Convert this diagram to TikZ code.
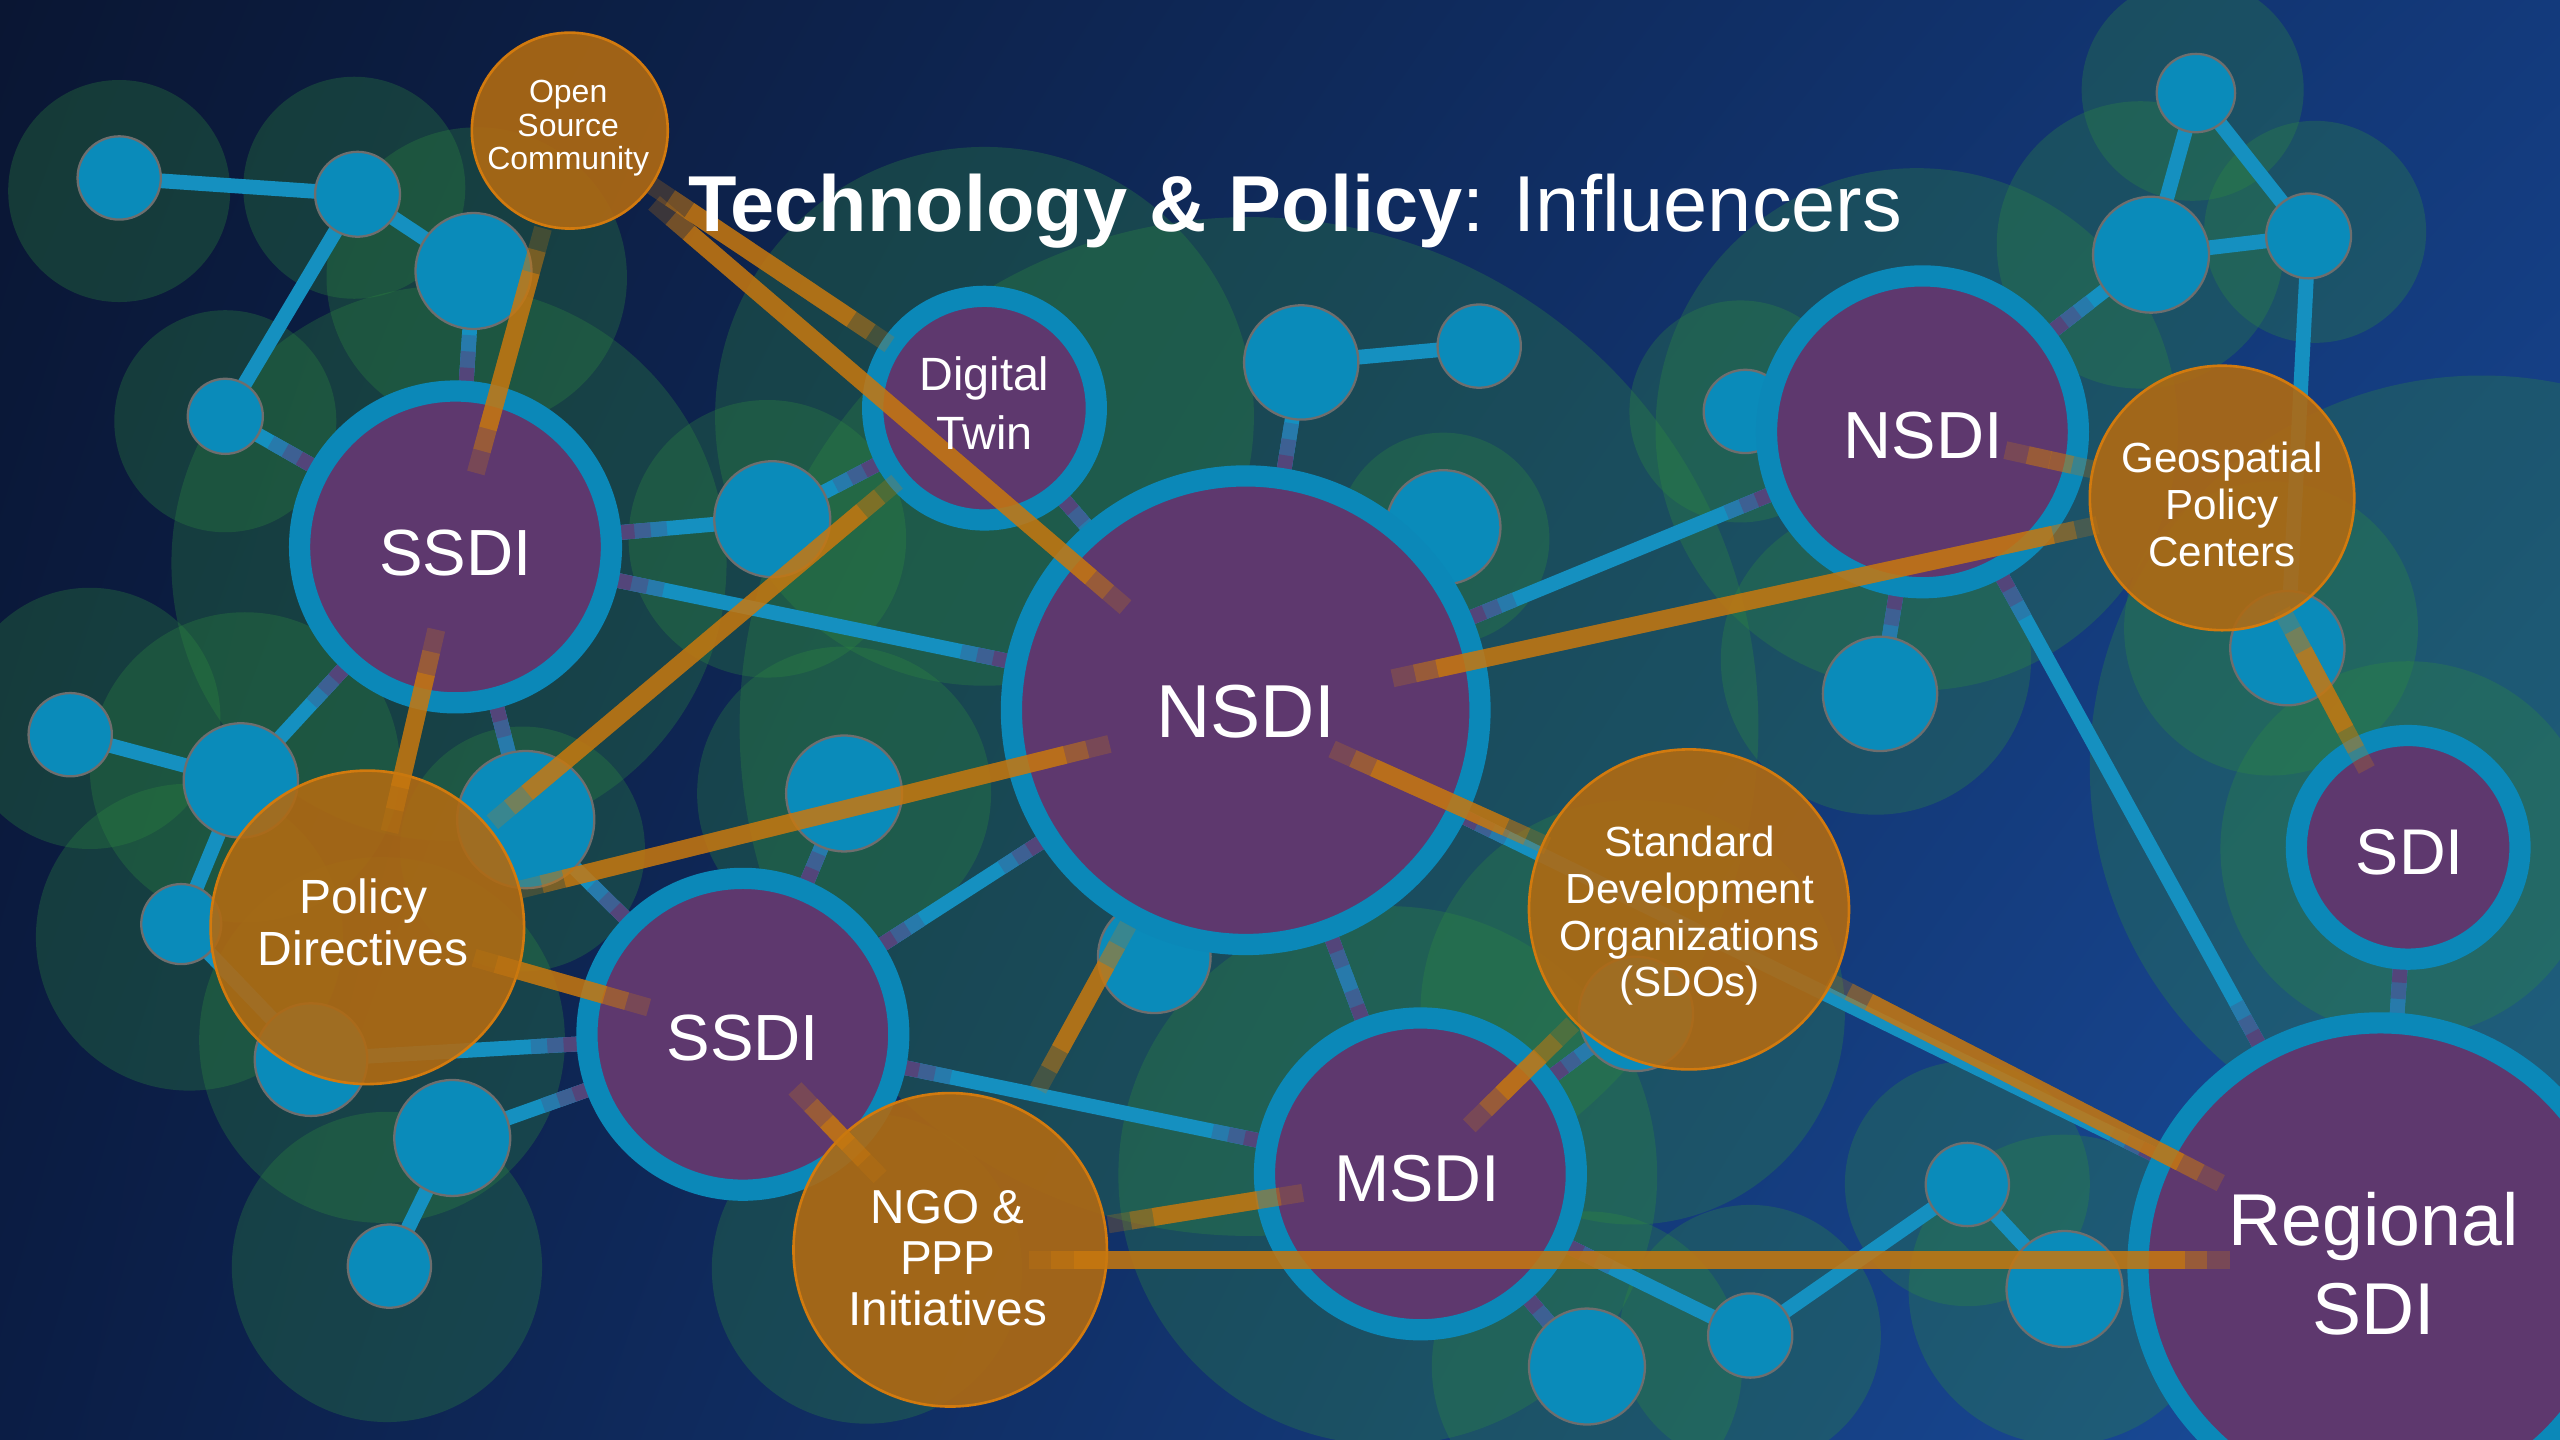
\documentclass[tikz,border=0pt]{standalone}
\usepackage{fontspec}
\setmainfont{Liberation Sans}
\usetikzlibrary{shadows,calc,shadings}
\pgfdeclarelayer{halo}
\pgfdeclarelayer{lines}
\pgfdeclarelayer{olines}
\pgfdeclarelayer{labels}
\pgfsetlayers{halo,lines,main,olines,labels}
\definecolor{bgTL}{HTML}{0A1633}
\definecolor{bgTR}{HTML}{133A7C}
\definecolor{bgBL}{HTML}{0B1D45}
\definecolor{bgBR}{HTML}{1A4FA0}
\definecolor{halo}{HTML}{2F8C3F}
\definecolor{purp}{HTML}{5E386E}
\definecolor{ring}{HTML}{0B88B8}
\definecolor{dotc}{HTML}{0A8BBA}
\definecolor{dotE}{HTML}{6E6E6E}
\definecolor{orng}{HTML}{B06A12}
\definecolor{orngE}{HTML}{D27A0E}
\definecolor{ocl}{HTML}{C8780F}
\definecolor{cyanl}{HTML}{1590C0}
\newcommand\olink[4]{%
  \coordinate (os) at ($(#1.center)!#3!(#2.center)$);
  \coordinate (oe) at ($(#2.center)!#4!(#1.center)$);
  \draw[ol, draw opacity=0.25] (os) -- (oe);
  \draw[ol, draw opacity=0.4] ($(os)!7pt!(oe)$) -- ($(oe)!7pt!(os)$);
  \draw[ol, draw opacity=0.67] ($(os)!14pt!(oe)$) -- ($(oe)!14pt!(os)$);
}
\begin{document}
\begin{tikzpicture}[x=0.5pt,y=-0.5pt,
  pn/.style={circle, inner sep=0pt, fill=purp, draw=ring, line width=6.5pt, minimum size=#1,
     drop shadow={shadow xshift=1.5pt, shadow yshift=-2.5pt, opacity=0.35}},
  dt/.style={circle, inner sep=0pt, fill=dotc, draw=dotE, line width=0.7pt, minimum size=#1},
  on/.style={circle, inner sep=0pt, fill=orng, fill opacity=0.9, draw=orngE, line width=0.8pt, minimum size=#1},
  cl/.style={draw=cyanl, line width=4.5pt},
  ol/.style={draw=ocl, line width=5.5pt},
  lb/.style={text=white, align=center, inner sep=0pt}
]
\useasboundingbox (0,0) rectangle (1568,882);
\begin{pgfonlayer}{halo}
\shade[upper left=bgTL, upper right=bgTR, lower left=bgBL, lower right=bgBR] (0,0) rectangle (1568,882);
\begin{scope}
\clip (0,0) rectangle (1568,882);
\foreach \x/\y/\r in {73/117/68, 217/115/68, 292/170/92, 138/258/68, 275/345/170, 603/255/165,
  470/330/85, 55/440/80, 150/470/95, 116/574/94, 234/637/112, 237/776/95, 320/520/75,
  517/486/90, 531/777/95, 850/720/165, 884/330/65, 765/445/312, 1174/263/160, 1066/252/68,
  1343/55/68, 1311/150/88, 1418/142/68, 1391/385/90, 1149/404/95, 1475/520/115, 1000/620/130,
  972/837/95, 1072/818/80, 1205/725/75, 1264/790/95, 1520/470/240}
  \fill[halo, opacity=0.3] (\x,\y) circle[radius=\r];
\end{scope}
\end{pgfonlayer}

% small dots
\node[dt=25.5pt] (d1) at (73,109) {};
\node[dt=26pt] (d2) at (219,119) {};
\node[dt=35.5pt] (d3) at (290,166) {};
\node[dt=23pt] (d4) at (138,255) {};
\node[dt=35.5pt] (d5) at (473,318) {};
\node[dt=25.5pt] (d6) at (43,450) {};
\node[dt=35pt] (d7) at (147.5,478) {};
\node[dt=24.5pt] (d8) at (111,566) {};
\node[dt=42pt] (d9) at (322,502) {};
\node[dt=35.5pt] (d10) at (517,486) {};
\node[dt=34.5pt] (d11) at (190.5,649) {};
\node[dt=35.5pt] (d12) at (277,697) {};
\node[dt=25.5pt] (d13) at (238.5,775.5) {};
\node[dt=34.5pt] (d14) at (707,586) {};
\node[dt=35pt] (d15) at (797,222) {};
\node[dt=25.5pt] (d16) at (906,212) {};
\node[dt=35pt] (d17) at (884,323) {};
\node[dt=25.5pt] (d18) at (1069,252) {};
\node[dt=35pt] (d19) at (1151.5,425) {};
\node[dt=35.5pt] (d20) at (1317.5,156) {};
\node[dt=24pt] (d21) at (1345,57) {};
\node[dt=26pt] (d22) at (1414,144.5) {};
\node[dt=35pt] (d23) at (1401,397) {};
\node[dt=35.5pt] (d25) at (972,837) {};
\node[dt=25.8pt] (d26) at (1072,818) {};
\node[dt=25.5pt] (d27) at (1205,725.5) {};
\node[dt=35.5pt] (d28) at (1264.5,789.5) {};
\node[dt=35pt] (d29) at (1002,621) {};

% purple nodes
\node[pn=95.5pt] (ssdiA) at (279,335) {};
\node[pn=68.5pt] (dtwin) at (603,250) {};
\node[pn=143.5pt] (nsdiA) at (763,435) {};
\node[pn=95.5pt] (nsdiB) at (1177.5,264.5) {};
\node[pn=68.5pt] (sdi) at (1475,519) {};
\node[pn=95.5pt] (ssdiB) at (455,633.5) {};
\node[pn=95.5pt] (msdi) at (870,719) {};
\node[pn=148.5pt] (regional) at (1458,775) {};

% orange nodes
\node[on=60pt] (osc) at (349,80) {};
\node[on=96pt] (policy) at (225,568) {};
\node[on=81pt] (geo) at (1361,305) {};
\node[on=98pt] (sdo) at (1034.5,557) {};
\node[on=96pt] (ngo) at (582,765.5) {};
\coordinate (ngoH) at ($(ngo.center)+(0,6.5)$);
\coordinate (regH) at ($(regional.center)+(0,-3)$);

% cyan connectors
\begin{pgfonlayer}{lines}
\foreach \a/\b in {d1/d2, d2/d3, d2/d4, d4/ssdiA, d3/ssdiA, ssdiA/d5, d5/dtwin, ssdiA/nsdiA,
  ssdiA/d7, ssdiA/d9, d6/d7, d7/d8, d8/d11, d9/ssdiB, d11/ssdiB, d12/ssdiB, d12/d13, d10/ssdiB,
  ssdiB/nsdiA, ssdiB/msdi, dtwin/nsdiA, nsdiA/d15, d15/d16, nsdiA/d17, nsdiA/nsdiB, nsdiB/d18,
  nsdiB/d19, nsdiB/d20, d20/d21, d21/d22, d20/d22, d22/d23, nsdiB/regional, sdi/regional,
  nsdiA/msdi, msdi/d25, msdi/d26, d26/d27, d27/d28, msdi/d29, nsdiA/regional, nsdiA/d14}
  \draw[cl] (\a.center) -- (\b.center);
% purple tint where a connector leaves a purple node
\foreach \p/\q/\r in {ssdiA/d4/51, ssdiA/d3/51, ssdiA/d5/51, dtwin/d5/37.5, ssdiA/nsdiA/51, nsdiA/ssdiA/75,
  ssdiA/d7/51, ssdiA/d9/51, ssdiB/d9/51, ssdiB/d11/51, ssdiB/d12/51, ssdiB/d10/51, ssdiB/nsdiA/51,
  nsdiA/ssdiB/75, ssdiB/msdi/51, msdi/ssdiB/51, nsdiA/d15/75, nsdiA/nsdiB/75, nsdiB/nsdiA/51,
  nsdiB/d19/51, nsdiB/d20/51, nsdiB/regional/51, regional/nsdiB/77.5, sdi/regional/37.5,
  nsdiA/msdi/75, msdi/nsdiA/51, msdi/d25/51, msdi/d26/51, msdi/d29/51, nsdiA/regional/75,
  regional/nsdiA/77.5, dtwin/nsdiA/37.5}
{
  \pgfmathsetmacro\ra{\r+4}
  \pgfmathsetmacro\rb{\r+9}
  \pgfmathsetmacro\rc{\r+14}
  \draw[cl, draw=purp!25!cyanl] (\p.center) -- ($(\p.center)!\rc pt!(\q.center)$);
  \draw[cl, draw=purp!55!cyanl] (\p.center) -- ($(\p.center)!\rb pt!(\q.center)$);
  \draw[cl, draw=purp!85!cyanl] (\p.center) -- ($(\p.center)!\ra pt!(\q.center)$);
}
\end{pgfonlayer}

% orange connectors
\begin{pgfonlayer}{olines}
\olink{osc}{ssdiA}{31pt}{23.5pt}
\olink{osc}{dtwin}{30pt}{35pt}
\olink{osc}{nsdiA}{34pt}{48.5pt}
\olink{ssdiA}{policy}{26pt}{30pt}
\olink{policy}{dtwin}{50pt}{35pt}
\olink{policy}{nsdiA}{48pt}{43pt}
\olink{policy}{ssdiB}{34pt}{30pt}
\olink{ssdiB}{ngo}{23pt}{31pt}
\olink{ngo}{nsdiA}{56pt}{75pt}
\olink{ngo}{msdi}{49pt}{36.5pt}
\olink{ngoH}{regH}{24pt}{46pt}
\olink{nsdiA}{sdo}{29pt}{47.5pt}
\olink{nsdiA}{geo}{46pt}{39pt}
\olink{nsdiB}{geo}{26pt}{40pt}
\olink{geo}{sdi}{39pt}{27pt}
\olink{sdo}{msdi}{50pt}{21pt}
\olink{sdo}{regional}{48pt}{55pt}
\end{pgfonlayer}

% labels
\begin{pgfonlayer}{labels}
\node[anchor=base west, inner sep=0pt, text=white, font=\fontsize{24.3}{28}\selectfont] (title) at (421,142)
  {\textbf{Technology \& Policy}: Influencers};
\node[lb, font=\fontsize{20}{22}\selectfont] (ssdiAl) at (279,339) {SSDI};
\node[lb, font=\fontsize{14.3}{17.9}\selectfont] (dtwinl) at (603,247) {Digital\\Twin};
\node[lb, font=\fontsize{23}{26}\selectfont] (nsdiAl) at (763,436) {NSDI};
\node[lb, font=\fontsize{20.4}{22}\selectfont] (nsdiBl) at (1178,267) {NSDI};
\node[lb, font=\fontsize{19.8}{22}\selectfont] (sdil) at (1476,522) {SDI};
\node[lb, font=\fontsize{20}{22}\selectfont] (ssdiBl) at (455,636) {SSDI};
\node[lb, font=\fontsize{20.3}{22}\selectfont] (msdil) at (868,722) {MSDI};
\node[lb, font=\fontsize{22.5}{27}\selectfont] (regionall) at (1454,774) {Regional\\SDI};
\node[lb, font=\fontsize{9.8}{10.4}\selectfont] (oscl) at (348,78.5) {Open\\Source\\Community};
\node[lb, font=\fontsize{14.7}{16}\selectfont] (policyl) at (222.5,565) {Policy\\Directives};
\node[lb, font=\fontsize{12.9}{14.3}\selectfont] (geol) at (1361,309) {Geospatial\\Policy\\Centers};
\node[lb, font=\fontsize{12.9}{14.3}\selectfont] (sdol) at (1035,561) {Standard\\Development\\Organizations\\(SDOs)};
\node[lb, font=\fontsize{14.6}{15.6}\selectfont] (ngol) at (580.5,770.5) {NGO \&\\PPP\\Initiatives};
\end{pgfonlayer}
\end{tikzpicture}
\end{document}
